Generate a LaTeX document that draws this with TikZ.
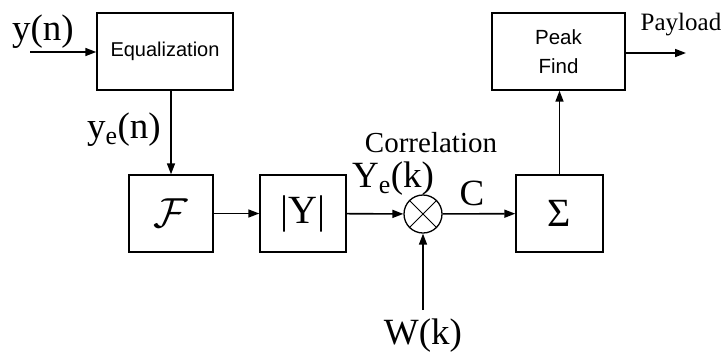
\RequirePackage{fix-cm}
\documentclass[tikz,border=0pt]{standalone}
\usepackage{fontspec}
\setmainfont{Liberation Serif}
\newfontfamily\boxfont{Liberation Sans}
\usetikzlibrary{arrows.meta}
\begin{document}
\begin{tikzpicture}[x=1pt,y=-1pt,
  line width=1.6pt,
  >={Triangle[length=11pt,width=8pt]},
  blk/.style={draw, line width=1.4pt, inner sep=0pt, minimum height=77pt},
  lbl/.style={inner sep=0pt, font=\fontsize{37}{38}\selectfont},
  small/.style={inner sep=0pt, font=\fontsize{29}{30}\selectfont}]
\useasboundingbox (0,0) rectangle (722,354);
% blocks
\node[blk, minimum width=136pt, font=\boxfont\fontsize{20}{20}\selectfont] (eq) at (165,51.5) {Equalization};
\node[blk, minimum width=133pt, align=center, font=\boxfont\fontsize{20.5}{29}\selectfont] (pk) at (558.5,51.5) {Peak\\Find};
\node[blk, minimum width=84pt, font=\fontsize{42}{42}\selectfont] (f) at (171,213.5) {$\mathcal{F}$};
\node[blk, minimum width=86pt, font=\fontsize{40}{40}\selectfont] (absy) at (303,213.5) {|Y|};
\node[blk, minimum width=87pt, font=\fontsize{40}{40}\selectfont] (sig) at (559.5,213.5) {Σ};
\node[draw, circle, line width=1.3pt, minimum size=38pt, inner sep=0pt] (mul) at (423,214) {};
\draw[line width=1pt] (mul.north west) -- (mul.south east) (mul.north east) -- (mul.south west);
% labels
\node[lbl] (yn) at (43,32) {y(n)};
\node[lbl] (yen) at (124,130) {y\textsubscript{e}(n)};
\node[small] (corr) at (431,143) {Correlation};
\node[lbl] (yek) at (393,179) {Y\textsubscript{e}(k)};
\node[lbl] (c) at (472,193) {C};
\node[inner sep=0pt, font=\fontsize{25}{26}\selectfont] (pay) at (681,25) {Payload};
\node[lbl] (wk) at (423,336) {W(k)};
% free ends
\coordinate (yin) at (30,52);
\coordinate (pout) at (686,53);
\coordinate (wst) at (423,310);
% connectors
\draw[->] (yin) -- (yin -| eq.west);
\draw[->] (f.north |- eq.south) -- (f.north);
\draw[->] (f) -- (absy);
\draw[->] (absy) -- (mul);
\draw[->] (mul) -- (sig);
\draw[->] (wst) -- (mul);
\draw[->] (sig.north) -- (sig.north |- pk.south);
\draw[->] (pout -| pk.east) -- (pout);
\end{tikzpicture}
\end{document}
